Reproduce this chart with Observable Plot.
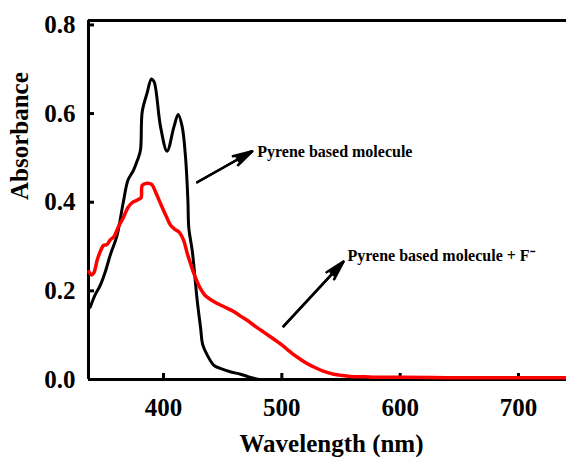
<!DOCTYPE html>
<html>
<head>
<meta charset="utf-8">
<script src="https://cdn.jsdelivr.net/npm/d3@7"></script>
<script src="https://cdn.jsdelivr.net/npm/@observablehq/plot@0.6"></script>
<style>
  html, body { margin: 0; padding: 0; background: white; }
</style>
</head>
<body>
<div id="chart"></div>
<script>
// Pyrene based molecule (black)
const wlBlack = [338, 342, 346.6, 351, 355, 360.8, 366, 370, 374.6, 378, 380.5, 382, 386, 389.8, 392, 397.5, 403, 408.8, 412.4, 415.8, 418.6, 420.6, 421.4, 424.3, 428.5, 431.4, 433, 437, 442.6, 448, 457, 465, 472, 481];
const absBlack = [0.163, 0.19, 0.213, 0.245, 0.281, 0.326, 0.40, 0.45, 0.472, 0.495, 0.517, 0.604, 0.645, 0.678, 0.672, 0.57, 0.515, 0.57, 0.598, 0.57, 0.502, 0.405, 0.341, 0.29, 0.178, 0.115, 0.08, 0.055, 0.032, 0.025, 0.017, 0.012, 0.006, 0.0];

// Pyrene based molecule + F- (red)
const wlRed = [337, 339, 341, 344, 346.6, 349.4, 352, 355, 358, 362, 366, 370, 374, 378, 381, 382, 386, 390, 393, 397.5, 402, 406, 410, 413, 417, 420, 423, 426, 431, 435, 440, 445, 452, 459.6, 465, 471, 476.5, 483, 490, 500, 505, 510, 516, 522, 528, 535, 544, 551, 558, 570, 580, 600, 640, 680, 720, 741];
const absRed = [0.243, 0.236, 0.24, 0.27, 0.289, 0.303, 0.304, 0.315, 0.322, 0.345, 0.365, 0.388, 0.40, 0.405, 0.41, 0.438, 0.443, 0.44, 0.425, 0.397, 0.37, 0.348, 0.338, 0.333, 0.314, 0.285, 0.26, 0.237, 0.206, 0.19, 0.18, 0.172, 0.163, 0.153, 0.143, 0.133, 0.122, 0.11, 0.097, 0.078, 0.067, 0.056, 0.045, 0.035, 0.027, 0.019, 0.012, 0.009, 0.007, 0.006, 0.005, 0.005, 0.004, 0.004, 0.004, 0.004];

// Axes
const xDomain = [336.6, 740.6];
const yDomain = [0, 0.81];
const xTicks = [400, 500, 600, 700];
const xTickLabels = ["400", "500", "600", "700"];
const yTicks = [0, 0.2, 0.4, 0.6, 0.8];
const yTickLabels = ["0.0", "0.2", "0.4", "0.6", "0.8"];
const xTitle = "Wavelength (nm)";
const yTitle = "Absorbance";

// Annotations
const annoText = ["Pyrene based molecule", "Pyrene based molecule + F\u207B"];
const annoX = [479.2, 555.5];
const annoY = [0.513, 0.279];
const arrowX1 = [428.5, 501.4];
const arrowY1 = [0.445, 0.120];
const arrowX2 = [475.0, 552.1];
const arrowY2 = [0.515, 0.266];

const black = wlBlack.map((w, i) => ({w, a: absBlack[i]}));
const red = wlRed.map((w, i) => ({w, a: absRed[i]}));
const annos = annoText.map((t, i) => ({t, x: annoX[i], y: annoY[i], x1: arrowX1[i], y1: arrowY1[i], x2: arrowX2[i], y2: arrowY2[i]}));

const chart = Plot.plot({
  width: 566,
  height: 457,
  marginLeft: 88,
  marginRight: 0,
  marginTop: 20,
  marginBottom: 78,
  style: {
    fontFamily: "'Liberation Serif', 'Times New Roman', serif",
    fontWeight: "bold",
    fontSize: "25px",
    background: "white",
    color: "black",
    overflow: "visible"
  },
  x: {domain: xDomain},
  y: {domain: yDomain},
  marks: [
    Plot.axisX(xTicks, {tickSize: 6, dy: -6, tickPadding: 19, strokeWidth: 3, tickFormat: d => xTickLabels[xTicks.indexOf(d)], label: null}),
    Plot.axisY(yTicks, {tickSize: 6, dx: 6, tickPadding: 13, strokeWidth: 3, tickFormat: d => yTickLabels[yTicks.indexOf(d)], label: null}),
    Plot.ruleY([yDomain[0]], {stroke: "black", strokeWidth: 3}),
    Plot.ruleY([yDomain[1]], {stroke: "black", strokeWidth: 3}),
    Plot.ruleX([xDomain[0]], {stroke: "black", strokeWidth: 3}),
    Plot.line(black, {x: "w", y: "a", stroke: "black", strokeWidth: 3, curve: "catmull-rom"}),
    Plot.line(red, {x: "w", y: "a", stroke: "#ff0000", strokeWidth: 3.5, curve: "catmull-rom"}),
    Plot.arrow(annos, {x1: "x1", y1: "y1", x2: "x2", y2: "y2", stroke: "black", strokeWidth: 2.5, headLength: 12, headAngle: 30}),
    Plot.arrow(annos, {x1: "x1", y1: "y1", x2: "x2", y2: "y2", stroke: "black", strokeWidth: 2.5, headLength: 10, headAngle: 15}),
    Plot.text(annos, {x: "x", y: "y", text: "t", textAnchor: "start", fontSize: 16, fontWeight: "bold", fill: "black"}),
    Plot.text([xTitle], {text: d => d, frameAnchor: "bottom", dx: 4, dy: 72, fontSize: 25, fontWeight: "bold", fill: "black"}),
    Plot.text([yTitle], {text: d => d, frameAnchor: "left", rotate: -90, dx: -69, fontSize: 25, fontWeight: "bold", fill: "black"})
  ]
});
document.getElementById("chart").appendChild(chart);
</script>
</body>
</html>
